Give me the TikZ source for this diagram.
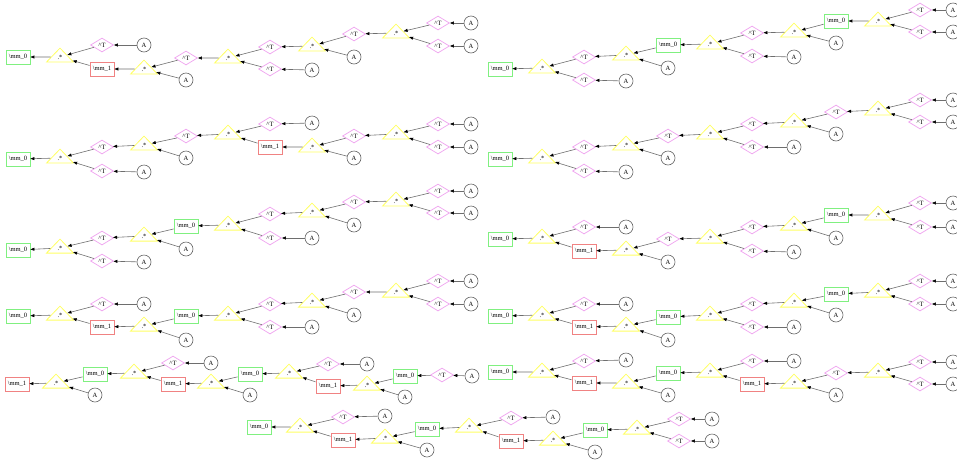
\documentclass[tikz,border=0pt]{standalone}
\usepackage{fontspec}
\setmainfont{Liberation Serif}
\usetikzlibrary{shapes.geometric}
\usetikzlibrary{arrows, arrows.meta}
\definecolor{boxgreen}{RGB}{128,240,128}
\definecolor{boxred}{RGB}{240,130,130}
\definecolor{mulyellow}{RGB}{255,255,100}
\definecolor{trviolet}{RGB}{240,170,240}
\definecolor{matgray}{RGB}{100,100,100}
\definecolor{linkgray}{RGB}{110,110,110}

% child/parent lists
\newcommand\pata{1/0,2/1,4/1,3/2,5/4,6/5,7/5,8/6,9/8,10/8,11/10,12/9,13/12,14/12,15/13,16/15,17/15,18/16,19/17}
\newcommand\patb{1/0,2/1,3/1,4/3,5/2,6/5,7/5,8/6,9/8,10/8,11/10,12/9,13/12,14/12,15/13,16/15,17/15,18/16,19/17}
\newcommand\patc{1/0,2/1,3/1,4/3,5/2,6/5,7/5,8/6,9/8,11/8,10/9,12/11,13/12,14/12,15/13,16/15,17/15,18/16,19/17}
\newcommand\patd{1/0,2/1,4/1,3/2,5/4,6/5,7/5,8/6,9/8,11/8,10/9,12/11,13/12,14/12,15/13,16/15,17/15,18/16,19/17}
\newcommand\pati{1/0,2/1,3/1,4/2,5/4,7/4,6/5,8/7,9/8,10/8,11/9,12/11,14/11,13/12,15/14,16/15,17/15,18/16,19/18}

\begin{document}
\begin{tikzpicture}[x=1pt, y=-1pt, font=\fontsize{6.5}{7}\selectfont,
  sumz/.style={draw=boxgreen, line width=0.8pt, minimum width=24pt, minimum height=14pt, inner sep=0pt},
  sumo/.style={sumz, draw=boxred},
  mul/.style={isosceles triangle, shape border rotate=90, isosceles triangle stretches,
    draw=mulyellow, line width=0.8pt, minimum width=27pt, minimum height=14pt, inner sep=0pt},
  tr/.style={diamond, draw=trviolet, line width=0.8pt, minimum width=23pt, minimum height=14pt, inner sep=0pt},
  mat/.style={circle, draw=matgray, line width=0.6pt, minimum size=14pt, inner sep=0pt},
  link/.style={->, draw=linkgray, line width=0.6pt}]
\clip (0,0) rectangle (957,464);
\begin{scope}[>={Triangle[length=4pt,width=3pt,color=black]}]

% row 1, left
\node[sumz] (a0) at (18,57) {\textbackslash mm\_0};
\node[mul] (a1) at (60,57) {.*};
\node[tr] (a2) at (102,45) {\textasciicircum T};
\node[mat] (a3) at (144,45) {A};
\node[sumo] (a4) at (102,69) {\textbackslash mm\_1};
\node[mul] (a5) at (144,69) {.*};
\node[tr] (a6) at (186,58) {\textasciicircum T};
\node[mat] (a7) at (186,80) {A};
\node[mul] (a8) at (228,58) {.*};
\node[tr] (a9) at (270,47) {\textasciicircum T};
\node[tr] (a10) at (270,69) {\textasciicircum T};
\node[mat] (a11) at (312,70) {A};
\node[mul] (a12) at (312,46) {.*};
\node[tr] (a13) at (354,34) {\textasciicircum T};
\node[mat] (a14) at (354,57) {A};
\node[mul] (a15) at (396,33) {.*};
\node[tr] (a16) at (438,23) {\textasciicircum T};
\node[tr] (a17) at (438,46) {\textasciicircum T};
\node[mat] (a18) at (471,23) {A};
\node[mat] (a19) at (471,46) {A};

% row 1, right
\node[sumz] (b0) at (500,69) {\textbackslash mm\_0};
\node[mul] (b1) at (542,68) {.*};
\node[tr] (b2) at (584,57) {\textasciicircum T};
\node[tr] (b3) at (584,80) {\textasciicircum T};
\node[mat] (b4) at (626,81) {A};
\node[mul] (b5) at (626,55) {.*};
\node[sumz] (b6) at (668,45) {\textbackslash mm\_0};
\node[mat] (b7) at (668,68) {A};
\node[mul] (b8) at (710,44) {.*};
\node[tr] (b9) at (752,33) {\textasciicircum T};
\node[tr] (b10) at (752,56) {\textasciicircum T};
\node[mat] (b11) at (794,57) {A};
\node[mul] (b12) at (794,32) {.*};
\node[sumz] (b13) at (836,21) {\textbackslash mm\_0};
\node[mat] (b14) at (836,43) {A};
\node[mul] (b15) at (878,21) {.*};
\node[tr] (b16) at (920,10) {\textasciicircum T};
\node[tr] (b17) at (920,32) {\textasciicircum T};
\node[mat] (b18) at (953,10) {A};
\node[mat] (b19) at (953,32) {A};

% row 2, left
\node[sumz] (c0) at (18,159) {\textbackslash mm\_0};
\node[mul] (c1) at (60,158) {.*};
\node[tr] (c2) at (102,147) {\textasciicircum T};
\node[tr] (c3) at (102,171) {\textasciicircum T};
\node[mat] (c4) at (144,172) {A};
\node[mul] (c5) at (144,145) {.*};
\node[tr] (c6) at (186,136) {\textasciicircum T};
\node[mat] (c7) at (186,158) {A};
\node[mul] (c8) at (228,134) {.*};
\node[tr] (c9) at (270,124) {\textasciicircum T};
\node[mat] (c10) at (312,123) {A};
\node[sumo] (c11) at (270,147) {\textbackslash mm\_1};
\node[mul] (c12) at (312,147) {.*};
\node[tr] (c13) at (354,136) {\textasciicircum T};
\node[mat] (c14) at (354,158) {A};
\node[mul] (c15) at (396,134) {.*};
\node[tr] (c16) at (438,124) {\textasciicircum T};
\node[tr] (c17) at (438,147) {\textasciicircum T};
\node[mat] (c18) at (471,124) {A};
\node[mat] (c19) at (471,147) {A};

% row 2, right
\node[sumz] (d0) at (500,159) {\textbackslash mm\_0};
\node[mul] (d1) at (542,158) {.*};
\node[tr] (d2) at (584,147) {\textasciicircum T};
\node[tr] (d3) at (584,171) {\textasciicircum T};
\node[mat] (d4) at (626,172) {A};
\node[mul] (d5) at (626,145) {.*};
\node[tr] (d6) at (668,136) {\textasciicircum T};
\node[mat] (d7) at (668,158) {A};
\node[mul] (d8) at (710,134) {.*};
\node[tr] (d9) at (752,124) {\textasciicircum T};
\node[tr] (d10) at (752,147) {\textasciicircum T};
\node[mat] (d11) at (794,147) {A};
\node[mul] (d12) at (794,122) {.*};
\node[tr] (d13) at (836,112) {\textasciicircum T};
\node[mat] (d14) at (836,134) {A};
\node[mul] (d15) at (878,110) {.*};
\node[tr] (d16) at (920,100) {\textasciicircum T};
\node[tr] (d17) at (920,122) {\textasciicircum T};
\node[mat] (d18) at (953,100) {A};
\node[mat] (d19) at (953,122) {A};

% row 3, left
\node[sumz] (e0) at (18,250) {\textbackslash mm\_0};
\node[mul] (e1) at (60,248) {.*};
\node[tr] (e2) at (102,238) {\textasciicircum T};
\node[tr] (e3) at (102,261) {\textasciicircum T};
\node[mat] (e4) at (144,262) {A};
\node[mul] (e5) at (144,236) {.*};
\node[sumz] (e6) at (186,226) {\textbackslash mm\_0};
\node[mat] (e7) at (186,249) {A};
\node[mul] (e8) at (228,225) {.*};
\node[tr] (e9) at (270,214) {\textasciicircum T};
\node[tr] (e10) at (270,238) {\textasciicircum T};
\node[mat] (e11) at (312,238) {A};
\node[mul] (e12) at (312,212) {.*};
\node[tr] (e13) at (354,202) {\textasciicircum T};
\node[mat] (e14) at (354,225) {A};
\node[mul] (e15) at (396,201) {.*};
\node[tr] (e16) at (438,191) {\textasciicircum T};
\node[tr] (e17) at (438,213) {\textasciicircum T};
\node[mat] (e18) at (471,191) {A};
\node[mat] (e19) at (471,213) {A};

% row 3, right
\node[sumz] (f0) at (500,239) {\textbackslash mm\_0};
\node[mul] (f1) at (542,238) {.*};
\node[tr] (f2) at (584,227) {\textasciicircum T};
\node[mat] (f3) at (626,227) {A};
\node[sumo] (f4) at (584,251) {\textbackslash mm\_1};
\node[mul] (f5) at (626,250) {.*};
\node[tr] (f6) at (668,239) {\textasciicircum T};
\node[mat] (f7) at (668,262) {A};
\node[mul] (f8) at (710,238) {.*};
\node[tr] (f9) at (752,227) {\textasciicircum T};
\node[tr] (f10) at (752,251) {\textasciicircum T};
\node[mat] (f11) at (794,252) {A};
\node[mul] (f12) at (794,225) {.*};
\node[sumz] (f13) at (836,215) {\textbackslash mm\_0};
\node[mat] (f14) at (836,238) {A};
\node[mul] (f15) at (878,215) {.*};
\node[tr] (f16) at (920,203) {\textasciicircum T};
\node[tr] (f17) at (920,227) {\textasciicircum T};
\node[mat] (f18) at (953,203) {A};
\node[mat] (f19) at (953,227) {A};

% row 4, left
\node[sumz] (g0) at (18,316) {\textbackslash mm\_0};
\node[mul] (g1) at (60,315) {.*};
\node[tr] (g2) at (102,304) {\textasciicircum T};
\node[mat] (g3) at (144,304) {A};
\node[sumo] (g4) at (102,327) {\textbackslash mm\_1};
\node[mul] (g5) at (144,326) {.*};
\node[sumz] (g6) at (186,316) {\textbackslash mm\_0};
\node[mat] (g7) at (186,340) {A};
\node[mul] (g8) at (228,315) {.*};
\node[tr] (g9) at (270,304) {\textasciicircum T};
\node[tr] (g10) at (270,327) {\textasciicircum T};
\node[mat] (g11) at (312,327) {A};
\node[mul] (g12) at (312,302) {.*};
\node[tr] (g13) at (354,292) {\textasciicircum T};
\node[mat] (g14) at (354,315) {A};
\node[mul] (g15) at (396,292) {.*};
\node[tr] (g16) at (438,281) {\textasciicircum T};
\node[tr] (g17) at (438,304) {\textasciicircum T};
\node[mat] (g18) at (471,281) {A};
\node[mat] (g19) at (471,304) {A};

% row 4, right
\node[sumz] (h0) at (500,316) {\textbackslash mm\_0};
\node[mul] (h1) at (542,315) {.*};
\node[tr] (h2) at (584,304) {\textasciicircum T};
\node[mat] (h3) at (626,304) {A};
\node[sumo] (h4) at (584,327) {\textbackslash mm\_1};
\node[mul] (h5) at (626,326) {.*};
\node[sumz] (h6) at (668,317) {\textbackslash mm\_0};
\node[mat] (h7) at (668,340) {A};
\node[mul] (h8) at (710,315) {.*};
\node[tr] (h9) at (752,304) {\textasciicircum T};
\node[tr] (h10) at (752,327) {\textasciicircum T};
\node[mat] (h11) at (794,327) {A};
\node[mul] (h12) at (794,302) {.*};
\node[sumz] (h13) at (836,294) {\textbackslash mm\_0};
\node[mat] (h14) at (836,315) {A};
\node[mul] (h15) at (878,292) {.*};
\node[tr] (h16) at (920,281) {\textasciicircum T};
\node[tr] (h17) at (920,304) {\textasciicircum T};
\node[mat] (h18) at (953,281) {A};
\node[mat] (h19) at (953,304) {A};

% row 5, left
\node[sumo] (i0) at (17,384) {\textbackslash mm\_1};
\node[mul] (i1) at (56,383) {.*};
\node[sumz] (i2) at (95,374) {\textbackslash mm\_0};
\node[mat] (i3) at (95,395) {A};
\node[mul] (i4) at (134,373) {.*};
\node[tr] (i5) at (173,363) {\textasciicircum T};
\node[mat] (i6) at (211,363) {A};
\node[sumo] (i7) at (173,384) {\textbackslash mm\_1};
\node[mul] (i8) at (211,383) {.*};
\node[sumz] (i9) at (250,374) {\textbackslash mm\_0};
\node[mat] (i10) at (250,395) {A};
\node[mul] (i11) at (289,373) {.*};
\node[tr] (i12) at (328,364) {\textasciicircum T};
\node[mat] (i13) at (367,364) {A};
\node[sumo] (i14) at (328,386) {\textbackslash mm\_1};
\node[mul] (i15) at (367,385) {.*};
\node[sumz] (i16) at (405,376) {\textbackslash mm\_0};
\node[mat] (i17) at (405,397) {A};
\node[tr] (i18) at (442,375) {\textasciicircum T};
\node[mat] (i19) at (472,376) {A};

% row 5, right
\node[sumz] (j0) at (500,372) {\textbackslash mm\_0};
\node[mul] (j1) at (542,372) {.*};
\node[tr] (j2) at (584,361) {\textasciicircum T};
\node[mat] (j3) at (626,360) {A};
\node[sumo] (j4) at (584,383) {\textbackslash mm\_1};
\node[mul] (j5) at (626,383) {.*};
\node[sumz] (j6) at (668,373) {\textbackslash mm\_0};
\node[mat] (j7) at (668,395) {A};
\node[mul] (j8) at (710,372) {.*};
\node[tr] (j9) at (752,361) {\textasciicircum T};
\node[mat] (j10) at (794,361) {A};
\node[sumo] (j11) at (752,384) {\textbackslash mm\_1};
\node[mul] (j12) at (794,383) {.*};
\node[tr] (j13) at (836,373) {\textasciicircum T};
\node[mat] (j14) at (836,395) {A};
\node[mul] (j15) at (878,372) {.*};
\node[tr] (j16) at (920,362) {\textasciicircum T};
\node[tr] (j17) at (920,384) {\textasciicircum T};
\node[mat] (j18) at (953,362) {A};
\node[mat] (j19) at (953,384) {A};

% row 6
\node[sumz] (k0) at (259,427) {\textbackslash mm\_0};
\node[mul] (k1) at (300,427) {.*};
\node[tr] (k2) at (343,417) {\textasciicircum T};
\node[mat] (k3) at (385,416) {A};
\node[sumo] (k4) at (343,440) {\textbackslash mm\_1};
\node[mul] (k5) at (385,438) {.*};
\node[sumz] (k6) at (427,429) {\textbackslash mm\_0};
\node[mat] (k7) at (427,450) {A};
\node[mul] (k8) at (469,427) {.*};
\node[tr] (k9) at (511,418) {\textasciicircum T};
\node[mat] (k10) at (553,417) {A};
\node[sumo] (k11) at (511,441) {\textbackslash mm\_1};
\node[mul] (k12) at (553,440) {.*};
\node[sumz] (k13) at (595,430) {\textbackslash mm\_0};
\node[mat] (k14) at (595,452) {A};
\node[mul] (k15) at (637,429) {.*};
\node[tr] (k16) at (679,419) {\textasciicircum T};
\node[tr] (k17) at (679,441) {\textasciicircum T};
\node[mat] (k18) at (712,419) {A};
\node[mat] (k19) at (712,441) {A};

% links, child to parent
\foreach \t in {a,f,g,h} {\foreach \c/\p in \pata {\draw[link] (\t\c) -- (\t\p);}}
\foreach \t in {b,d,e} {\foreach \c/\p in \patb {\draw[link] (\t\c) -- (\t\p);}}
\foreach \c/\p in \patc {\draw[link] (c\c) -- (c\p);}
\foreach \t in {j,k} {\foreach \c/\p in \patd {\draw[link] (\t\c) -- (\t\p);}}
\foreach \c/\p in \pati {\draw[link] (i\c) -- (i\p);}

\end{scope}
\end{tikzpicture}
\end{document}
